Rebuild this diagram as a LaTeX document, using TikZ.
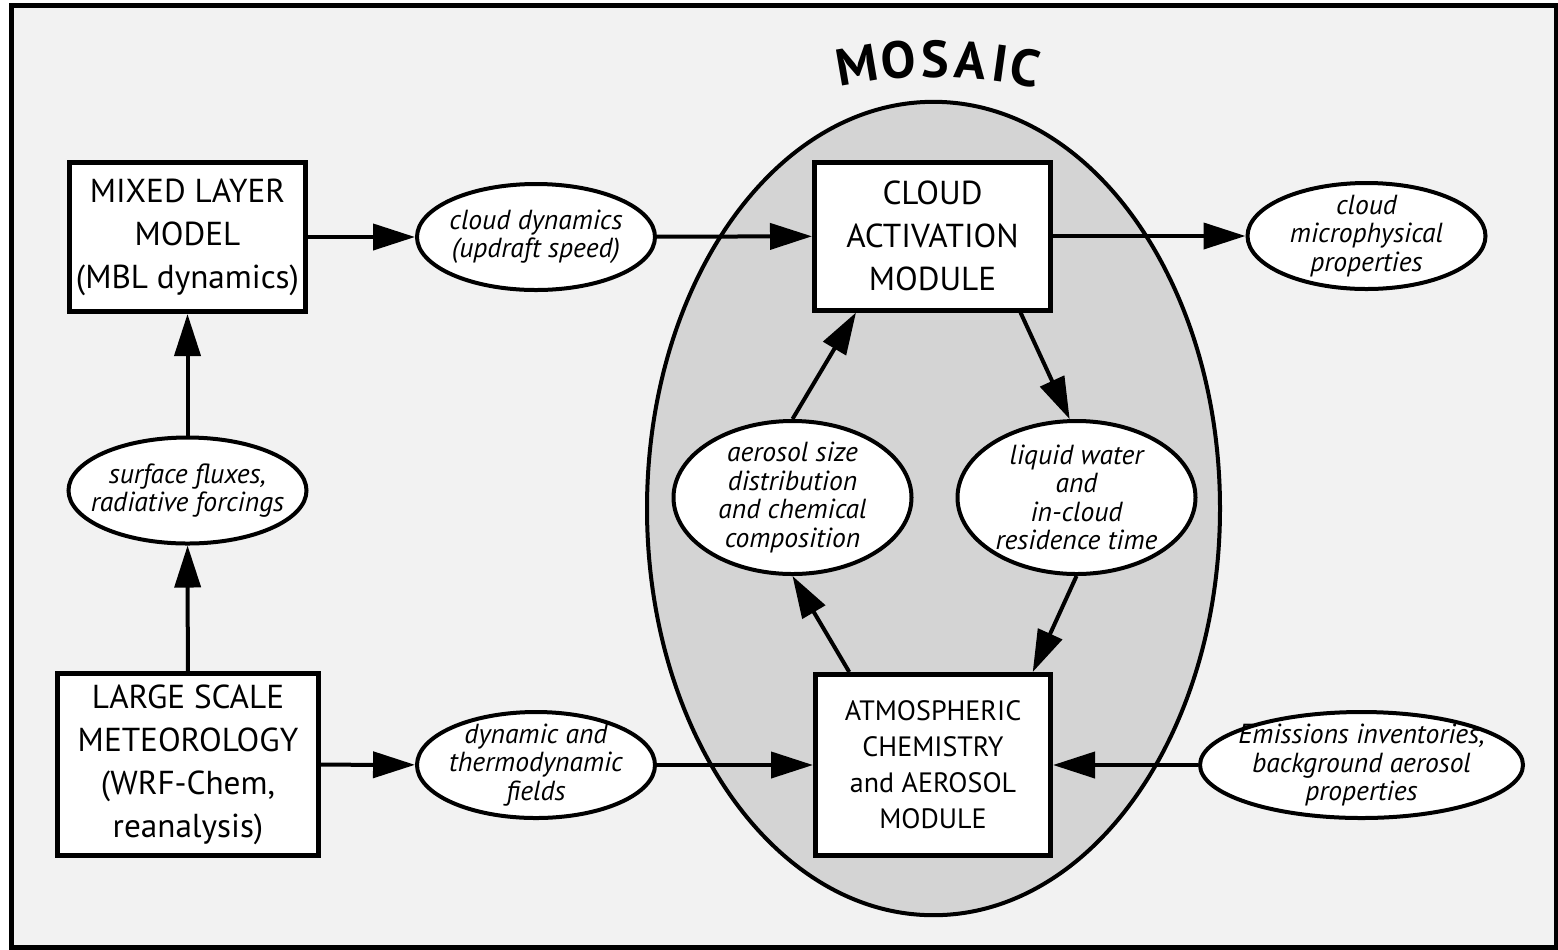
\documentclass[tikz,border=0pt]{standalone}
\usepackage{fontspec}
\setmainfont{PT Sans}
\usetikzlibrary{shapes.geometric,arrows.meta}
\definecolor{bgc}{gray}{0.95}
\definecolor{mosc}{gray}{0.83}

\begin{document}
\begin{tikzpicture}[x=0.5pt, y=-0.5pt,
	box/.style={rectangle, draw, fill=white, line width=2.5pt, inner sep=0pt, align=center, font=\fontsize{16.6}{21.5}\selectfont},
	oval/.style={ellipse, draw, fill=white, line width=2pt, inner sep=-16pt, align=center, minimum width=119pt, minimum height=53pt, font=\fontsize{13.8}{14.2}\selectfont\itshape},
	arr/.style={line width=2pt, -{Triangle[length=21pt, width=13pt]}}]
	\useasboundingbox (0,0) rectangle (1558,949);
	\draw[line width=2.5pt, fill=bgc] (11.5,5) rectangle (1556,947);
	\draw[line width=2pt, fill=mosc] (933.5,508.5) ellipse[x radius=286.5, y radius=406.7];
	\foreach \ch/\a/\r in {M/-9.72/9.72, O/-4.59/4.59, S/-0.13/0.13, A/4.2/-4.2, I/7.92/-7.92, C/11.02/-11.02} {
		\node[anchor=base, inner sep=0pt, rotate=\r, font=\fontsize{26}{26}\selectfont\bfseries] (t\ch) at ({936+450*sin(\a)}, {527-450*cos(\a)}) {\ch};
	}

	\node[box, minimum width=118pt, minimum height=74.5pt] (mixed) at (187.5,237) {MIXED LAYER\\MODEL\\(MBL dynamics)};
	\node[box, minimum width=130.5pt, minimum height=91pt] (large) at (188,764.5) {LARGE SCALE\\METEOROLOGY\\(WRF-Chem,\\reanalysis)};
	\node[box, minimum width=118pt, minimum height=74pt] (act) at (932.5,236) {CLOUD\\ACTIVATION\\MODULE};
	\node[box, minimum width=117.5pt, minimum height=90.5pt, font=\fontsize{14}{18}\selectfont] (chem) at (933,765) {ATMOSPHERIC\\CHEMISTRY\\and AEROSOL\\MODULE};

	\node[oval] (dyn) at (536,237) {cloud dynamics\\(updraft speed)};
	\node[oval] (micro) at (1366.5,236) {cloud\\microphysical\\properties};
	\node[oval] (surf) at (187.5,490.5) {surface fluxes,\\radiative forcings};
	\node[oval, minimum height=76.5pt] (aero) at (792.5,497.5) {aerosol size\\distribution\\and chemical\\composition};
	\node[oval, minimum height=76.5pt] (liquid) at (1076.5,497.5) {liquid water\\and\\in-cloud\\residence time};
	\node[oval] (fields) at (536,765) {dynamic and\\thermodynamic\\fields};
	\node[oval, minimum width=161.5pt] (emis) at (1361.5,765) {Emissions inventories,\\background aerosol\\properties};

	\draw[arr] (mixed) -- (dyn);
	\draw[arr] (dyn) -- (act);
	\draw[arr] (act) -- (micro);
	\draw[arr] (large) -- (fields);
	\draw[arr] (fields) -- (chem);
	\draw[arr] (emis) -- (chem);
	\draw[arr] (large) -- (surf);
	\draw[arr] (surf) -- (mixed);
	\draw[arr] (aero.north) -- (act.225);
	\draw[arr] (act.319) -- (liquid.95);
	\draw[arr] (liquid.south) -- (chem.43);
	\draw[arr] (chem.132.5) -- (aero.south);
\end{tikzpicture}
\end{document}
